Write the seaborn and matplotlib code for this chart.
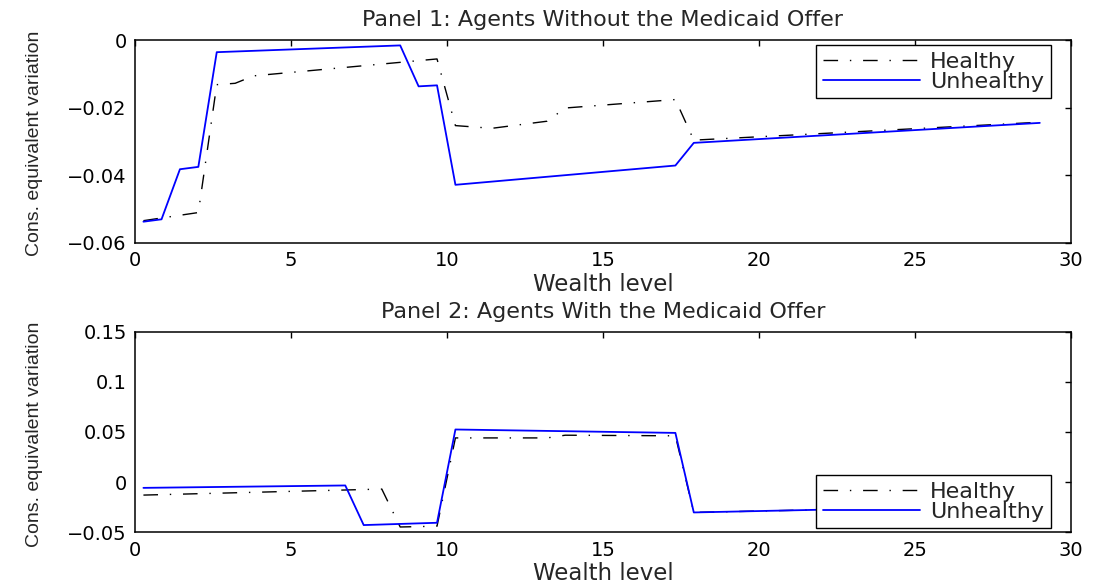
import matplotlib
matplotlib.use("Agg")
import matplotlib.pyplot as plt
import seaborn as sns

# Wealth breakpoints and consumption equivalent variation, panel 1 (no Medicaid offer)
wealth_p1_healthy = [0.27, 2.03, 2.62, 3.21, 3.80, 9.68, 10.27, 11.44, 13.21, 13.79, 17.32, 17.91, 29.0]
cev_p1_healthy = [-0.0534, -0.0510, -0.0132, -0.0128, -0.0106, -0.0056, -0.0253, -0.0261,
                  -0.0240, -0.0201, -0.0176, -0.0296, -0.0243]
wealth_p1_unhealthy = [0.27, 0.85, 1.44, 2.03, 2.62, 8.50, 9.09, 9.68, 10.27, 17.32, 17.91, 29.0]
cev_p1_unhealthy = [-0.0537, -0.0530, -0.0382, -0.0375, -0.0036, -0.0016, -0.0137, -0.0134,
                    -0.0428, -0.0371, -0.0304, -0.0245]

# Panel 2 (with Medicaid offer)
wealth_p2_healthy = [0.27, 7.91, 8.50, 9.68, 10.27, 13.21, 13.79, 17.32, 17.91, 29.0]
cev_p2_healthy = [-0.0129, -0.0069, -0.0447, -0.0439, 0.0441, 0.0441, 0.0468, 0.0462, -0.0302, -0.0228]
wealth_p2_unhealthy = [0.27, 6.74, 7.33, 9.68, 10.27, 17.32, 17.91, 29.0]
cev_p2_unhealthy = [-0.0057, -0.0033, -0.0428, -0.0405, 0.0525, 0.0491, -0.0302, -0.0228]

panel_titles = ["Panel 1: Agents Without the Medicaid Offer", "Panel 2: Agents With the Medicaid Offer"]
series_labels = ["Healthy", "Unhealthy"]
x_ticks = [0, 5, 10, 15, 20, 25, 30]
y_ticks_p1 = [-0.06, -0.04, -0.02, 0]
y_ticks_p2 = [-0.05, 0, 0.05, 0.1, 0.15]

sns.set_style("white")
plt.rcParams["font.family"] = ["DejaVu Sans"]
plt.rcParams["axes.linewidth"] = 1.1
plt.rcParams["axes.edgecolor"] = "black"

fig = plt.figure(figsize=(10.94, 5.87), dpi=100)
W, H = 1094, 587
ax1 = fig.add_axes([135 / W, 1 - 243 / H, 936 / W, 203 / H])
ax2 = fig.add_axes([135 / W, 1 - 532.3 / H, 936 / W, 200.6 / H])

# dash-dot pattern: long dash, gap, dot, gap
dashdot = (0, (10.5, 8.5, 1.0, 8.5))


def fmt(v):
    s = "%g" % v
    return s.replace("-", "\u2212")


panels = [
    (ax1, wealth_p1_healthy, cev_p1_healthy, wealth_p1_unhealthy, cev_p1_unhealthy,
     y_ticks_p1, "upper right", (1 - 20 / 936, 1 - 5 / 203)),
    (ax2, wealth_p2_healthy, cev_p2_healthy, wealth_p2_unhealthy, cev_p2_unhealthy,
     y_ticks_p2, "lower right", (1 - 20 / 936, 4 / 200.6)),
]

for i, (ax, xh, yh, xu, yu, yt, loc, anchor) in enumerate(panels):
    sns.lineplot(x=xh, y=yh, ax=ax, color="black", linestyle=dashdot, linewidth=1.0,
                 estimator=None, label=series_labels[0])
    sns.lineplot(x=xu, y=yu, ax=ax, color="#0000ff", linewidth=1.3,
                 estimator=None, label=series_labels[1])
    ax.set_xlim(0, 30)
    ax.set_ylim(yt[0], yt[-1])
    ax.set_xticks(x_ticks)
    ax.set_xticklabels([fmt(v) for v in x_ticks])
    ax.set_yticks(yt)
    ax.set_yticklabels([fmt(v) for v in yt])
    ax.tick_params(direction="in", length=4, width=1, top=True, right=True,
                   labelsize=14, pad=6, colors="black")
    for sp in ax.spines.values():
        sp.set_visible(True)
        sp.set_color("black")
    ax.set_xlabel("Wealth level", fontsize=16.5, labelpad=2)
    ax.set_ylabel("Cons. equivalent variation", fontsize=14,
                  family=["Liberation Sans", "DejaVu Sans"])
    ax.yaxis.set_label_coords(-0.098, 0.49)
    ax.set_title(panel_titles[i], fontsize=16, pad=10)
    leg = ax.legend(loc=loc, bbox_to_anchor=anchor, borderaxespad=0, fontsize=16,
                    handlelength=4.4, handletextpad=0.45, labelspacing=0.0, borderpad=0.3,
                    frameon=True, fancybox=False, framealpha=1, edgecolor="black")
    leg.get_frame().set_linewidth(1.0)

fig.savefig("out.png", dpi=100, facecolor="white")
